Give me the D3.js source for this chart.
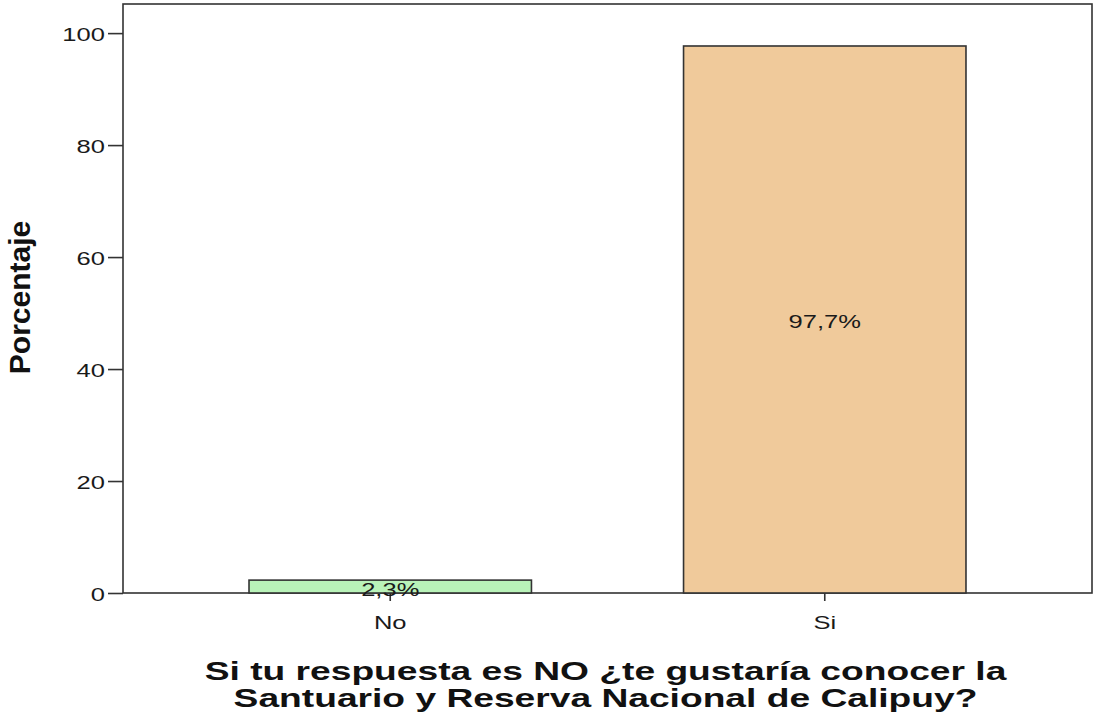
<!DOCTYPE html>
<html>
<head>
<meta charset="utf-8">
<script src="https://cdn.jsdelivr.net/npm/d3@7"></script>
<style>
  html, body { margin: 0; padding: 0; background: #fff; }
  svg { display: block; font-family: "Liberation Sans", Arial, sans-serif; }
</style>
</head>
<body>
<svg id="chart" width="1094" height="719"></svg>
<script>
const categories = ["No", "Si"];
const values = [2.3, 97.7];
const valueLabels = ["2,3%", "97,7%"];
const colors = ["#b9f3b9", "#f0ca9b"];
const yTicks = [0, 20, 40, 60, 80, 100];
const yTitle = "Porcentaje";
const xTitle = ["Si tu respuesta es NO ¿te gustaría conocer la", "Santuario y Reserva Nacional de Calipuy?"];

const svg = d3.select("#chart");
const pLeft = 123, pRight = 1092, pTop = 4, pBottom = 593;
const sx = 1.42; // horizontal stretch of the original rendering

const x = d3.scaleBand().domain(categories).range([pLeft, pRight]).paddingInner(0.35).paddingOuter(0.29);
const y = d3.scaleLinear().domain([0, 105.2]).range([pBottom, pTop]);

const ink = "#1a1a1a";

// frame
svg.append("rect").attr("x", pLeft).attr("y", pTop).attr("width", pRight - pLeft).attr("height", pBottom - pTop)
  .attr("fill", "none").attr("stroke", "#333").attr("stroke-width", 1.6);

// bars
svg.selectAll("rect.bar").data(categories).enter().append("rect")
  .attr("class", "bar")
  .attr("x", d => x(d)).attr("width", x.bandwidth())
  .attr("y", (d, i) => y(values[i])).attr("height", (d, i) => y(0) - y(values[i]))
  .attr("fill", (d, i) => colors[i]).attr("stroke", "#333").attr("stroke-width", 1.6);

// y axis
const yAxis = d3.axisLeft(y).tickValues(yTicks).tickSize(15).tickPadding(3).tickFormat(d3.format("d"));
const gy = svg.append("g").attr("transform", `translate(${pLeft},0)`).call(yAxis);
gy.select(".domain").remove();
gy.selectAll(".tick line").attr("stroke", "#333").attr("stroke-width", 1.6);
gy.selectAll(".tick text").each(function() {
  const t = d3.select(this);
  const xx = +t.attr("x");
  t.attr("x", null).attr("transform", `translate(${xx},2) scale(${sx},1)`)
   .attr("font-size", 18).attr("fill", ink).attr("font-family", "Liberation Sans, Arial, sans-serif");
});

// x axis
const xAxis = d3.axisBottom(x).tickSize(8).tickPadding(4);
const gx = svg.append("g").attr("transform", `translate(0,${pBottom})`).call(xAxis);
gx.select(".domain").remove();
gx.selectAll(".tick line").attr("stroke", "#333").attr("stroke-width", 1.6);
gx.selectAll(".tick text").each(function() {
  const t = d3.select(this);
  const yy = +t.attr("y");
  t.attr("y", null).attr("dy", null).attr("transform", `translate(0,${yy + 24}) scale(${sx},1)`)
   .attr("font-size", 18).attr("fill", ink).attr("font-family", "Liberation Sans, Arial, sans-serif");
});

// value labels
svg.selectAll("text.val").data(categories).enter().append("text")
  .attr("class", "val")
  .attr("transform", (d, i) => `translate(${x(d) + x.bandwidth() / 2},${(y(values[i]) + y(0)) / 2 + 9}) scale(${sx},1)`)
  .attr("text-anchor", "middle").attr("font-size", 18).attr("fill", ink)
  .text((d, i) => valueLabels[i]);

// y title
svg.append("text")
  .attr("transform", `translate(30,${(pTop + pBottom) / 2 - 1}) rotate(-90)`)
  .attr("text-anchor", "middle").attr("font-size", 30).attr("font-weight", "bold").attr("fill", "#111")
  .text(yTitle);

// x title
svg.selectAll("text.xt").data(xTitle).enter().append("text")
  .attr("class", "xt")
  .attr("transform", (d, i) => `translate(${(pLeft + pRight) / 2 - 2},${680 + i * 27}) scale(1.43,1)`)
  .attr("text-anchor", "middle").attr("font-size", 26).attr("font-weight", "bold").attr("fill", "#111")
  .text(d => d);
</script>
</body>
</html>
